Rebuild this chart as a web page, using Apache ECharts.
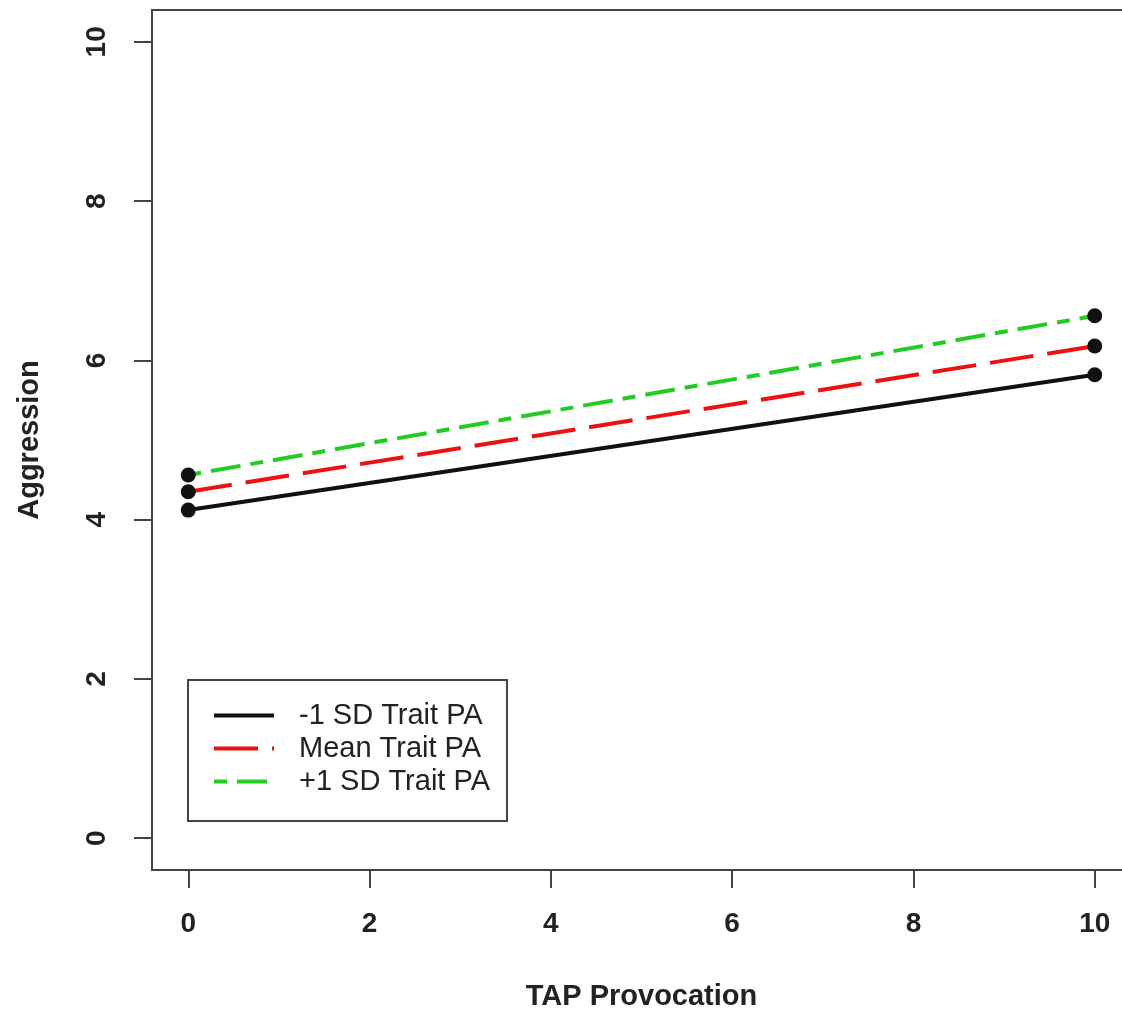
<!DOCTYPE html>
<html>
<head>
<meta charset="utf-8">
<script src="https://cdn.jsdelivr.net/npm/echarts@6/dist/echarts.min.js"></script>
<style>
  html, body { margin: 0; padding: 0; background: #fff; }
  #chart { width: 1122px; height: 1013px; }
</style>
</head>
<body>
<div id="chart"></div>
<script>
  // data
  var seriesNames = ['-1 SD Trait PA', 'Mean Trait PA', '+1 SD Trait PA'];
  var provocation = [0, 10];
  var lowPA = [4.12, 5.82];
  var meanPA = [4.35, 6.18];
  var highPA = [4.56, 6.56];
  var xTicks = [0, 2, 4, 6, 8, 10];
  var yTicks = [0, 2, 4, 6, 8, 10];

  var lineColors = ['#111111', '#ee1111', '#22cc22'];
  var lineDash = ['solid', [44, 14], [13, 10, 30, 10]];
  var values = [lowPA, meanPA, highPA];

  var myChart = echarts.init(document.getElementById('chart'));

  function pairs(ys) {
    return provocation.map(function (x, i) { return [x, ys[i]]; });
  }

  var font = 'Liberation Sans, Arial, sans-serif';

  var option = {
    animation: false,
    grid: {
      left: 152, top: 10, width: 979, height: 860,
      outerBoundsMode: 'none',
      containLabel: false,
      show: true,
      borderColor: '#444',
      borderWidth: 2
    },
    legend: {
      orient: 'vertical',
      left: 188,
      top: 680,
      padding: [21, 17, 25, 24],
      borderColor: '#444',
      borderWidth: 2,
      itemWidth: 60,
      itemHeight: 14,
      itemGap: 4,
      itemStyle: { opacity: 0 },
      lineStyle: { width: 4 },
      textStyle: {
        fontFamily: font,
        fontSize: 29,
        lineHeight: 29,
        color: '#222',
        padding: [0, 0, 0, 20]
      },
      data: seriesNames
    },
    xAxis: {
      type: 'value',
      min: -0.4,
      max: 10.4,
      name: 'TAP Provocation',
      nameLocation: 'middle',
      nameGap: 112,
      nameTextStyle: { fontFamily: font, fontSize: 29, fontWeight: 'bold', color: '#222' },
      axisLine: { show: false, onZero: false },
      splitLine: { show: false },
      axisTick: {
        show: true, length: 18, customValues: xTicks,
        lineStyle: { color: '#444', width: 2 }
      },
      axisLabel: {
        customValues: xTicks,
        margin: 40,
        fontFamily: font, fontSize: 28, fontWeight: 'bold', color: '#222'
      }
    },
    yAxis: {
      type: 'value',
      min: -0.4,
      max: 10.4,
      name: 'Aggression',
      nameLocation: 'middle',
      nameRotate: 90,
      nameGap: 108,
      nameTextStyle: { fontFamily: font, fontSize: 29, fontWeight: 'bold', color: '#222' },
      axisLine: { show: false, onZero: false },
      splitLine: { show: false },
      axisTick: {
        show: true, length: 18, customValues: yTicks,
        lineStyle: { color: '#444', width: 2 }
      },
      axisLabel: {
        customValues: yTicks,
        rotate: 90,
        margin: 41,
        fontFamily: font, fontSize: 28, fontWeight: 'bold', color: '#222'
      }
    },
    series: seriesNames.map(function (name, i) {
      return {
        name: name,
        type: 'line',
        data: pairs(values[i]),
        symbol: 'circle',
        symbolSize: 15,
        itemStyle: { color: '#111' },
        lineStyle: { color: lineColors[i], width: 4, type: lineDash[i] },
        z: 2 + i
      };
    })
  };

  myChart.setOption(option);
</script>
</body>
</html>
